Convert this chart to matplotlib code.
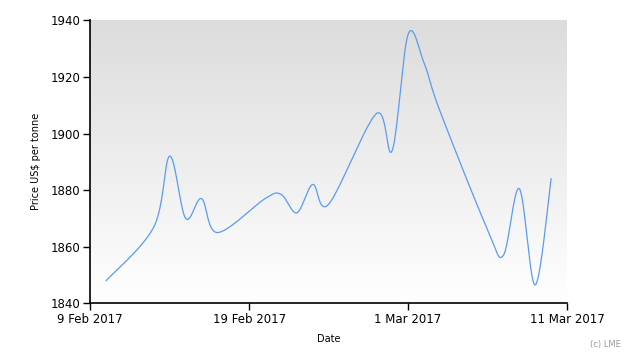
import numpy as np
import matplotlib
matplotlib.use("Agg")
import matplotlib.pyplot as plt
import matplotlib.dates as mdates
import datetime as dt

dates = ["2017-02-10", "2017-02-13", "2017-02-14", "2017-02-15", "2017-02-16",
         "2017-02-17", "2017-02-20", "2017-02-21", "2017-02-22", "2017-02-23",
         "2017-02-24", "2017-02-27", "2017-02-28", "2017-03-01", "2017-03-02",
         "2017-03-03", "2017-03-06", "2017-03-07", "2017-03-08", "2017-03-09",
         "2017-03-10"]
prices = [1848, 1867, 1892, 1870, 1877,
          1865, 1877, 1878.5, 1872, 1882,
          1875, 1907, 1894, 1935, 1925,
          1908, 1866, 1857, 1880.5, 1846.5,
          1884]
xtick_labels = ["9 Feb 2017", "19 Feb 2017", "1 Mar 2017", "11 Mar 2017"]
xtick_dates = ["2017-02-09", "2017-02-19", "2017-03-01", "2017-03-11"]
yticks = [1840, 1860, 1880, 1900, 1920, 1940]

xd = np.array([mdates.date2num(dt.datetime.strptime(d, "%Y-%m-%d")) for d in dates])
yd = np.array(prices, dtype=float)

def cardinal_spline(x, y, tension=0.5, n=40):
    P = np.column_stack([x, y])
    P = np.vstack([P[0], P, P[-1]])
    out = []
    for i in range(1, len(P) - 2):
        p0, p1, p2, p3 = P[i - 1], P[i], P[i + 1], P[i + 2]
        m1 = tension * (p2 - p0)
        m2 = tension * (p3 - p1)
        t = np.linspace(0, 1, n)[:, None]
        h00 = 2 * t**3 - 3 * t**2 + 1
        h10 = t**3 - 2 * t**2 + t
        h01 = -2 * t**3 + 3 * t**2
        h11 = t**3 - t**2
        seg = h00 * p1 + h10 * m1 + h01 * p2 + h11 * m2
        out.append(seg if i == 1 else seg[1:])
    S = np.vstack(out)
    return S[:, 0], S[:, 1]

sx, sy = cardinal_spline(xd, yd, tension=0.5)

fig = plt.figure(figsize=(6.3, 3.6), dpi=100)
ax = fig.add_axes([0.1433, 0.1575, 0.9 - 0.1433, 0.9436 - 0.1575])

grad = np.linspace(220, 255, 256).reshape(-1, 1) / 255.0
ax.imshow(np.dstack([grad, grad, grad]), aspect="auto", extent=[0, 1, 0, 1],
          transform=ax.transAxes, zorder=0, origin="upper")

ax.plot(mdates.num2date(sx), sy, color="#5a9bf0", lw=0.9, zorder=2)

x0 = mdates.date2num(dt.datetime(2017, 2, 9))
x1 = mdates.date2num(dt.datetime(2017, 3, 11))
ax.set_xlim(mdates.num2date(x0), mdates.num2date(x1))
ax.set_ylim(1840, 1940)
ax.set_yticks(yticks)
ax.set_xticks([dt.datetime.strptime(d, "%Y-%m-%d") for d in xtick_dates])
ax.set_xticklabels(xtick_labels)

for s in ["top", "right"]:
    ax.spines[s].set_visible(False)
for s in ["left", "bottom"]:
    ax.spines[s].set_color("black")
    ax.spines[s].set_linewidth(1.2)
ax.tick_params(axis="both", direction="out", length=5, width=1, colors="black",
               labelsize=8.5, pad=2)
ax.set_xlabel("Date", fontsize=7, labelpad=6)
ax.set_ylabel("Price US$ per tonne", fontsize=7, labelpad=7)
fig.text(0.985, 0.035, "(c) LME", fontsize=6, color="#999999", ha="right")

fig.savefig("out.png", dpi=100)
